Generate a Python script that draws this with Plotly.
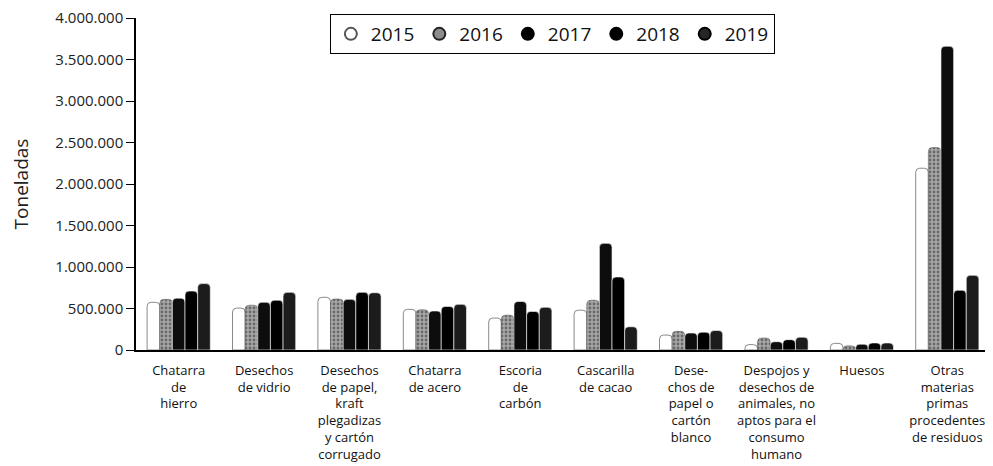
import plotly.graph_objects as go

categories = [
    "Chatarra<br>de<br>hierro",
    "Desechos<br>de vidrio",
    "Desechos<br>de papel,<br>kraft<br>plegadizas<br>y cartón<br>corrugado",
    "Chatarra<br>de acero",
    "Escoria<br>de<br>carbón",
    "Cascarilla<br>de cacao",
    "Dese-<br>chos de<br>papel o<br>cartón<br>blanco",
    "Despojos y<br>desechos de<br>animales, no<br>aptos para el<br>consumo<br>humano",
    "Huesos",
    "Otras<br>materias<br>primas<br>procedentes<br>de residuos",
]

years = ["2015", "2016", "2017", "2018", "2019"]

v2015 = [575000, 505000, 635000, 490000, 385000, 480000, 180000, 65000, 80000, 2190000]
v2016 = [610000, 540000, 615000, 485000, 420000, 600000, 225000, 145000, 50000, 2440000]
v2017 = [625000, 575000, 610000, 470000, 585000, 1285000, 205000, 100000, 70000, 3660000]
v2018 = [710000, 600000, 695000, 525000, 465000, 880000, 215000, 125000, 85000, 720000]
v2019 = [800000, 695000, 690000, 550000, 515000, 280000, 235000, 155000, 85000, 900000]

values = [v2015, v2016, v2017, v2018, v2019]

bar_styles = [
    dict(color="#ffffff", line=dict(color="#8a8a8a", width=1)),
    dict(color="#a8a8a8", line=dict(color="#555555", width=0.5),
         pattern=dict(shape=".", fgcolor="#2a2a2a", size=4, solidity=0.4)),
    dict(color="#0d0d0d", line=dict(color="#ffffff", width=0.6)),
    dict(color="#000000", line=dict(color="#ffffff", width=0.6)),
    dict(color="#1c1c1c", line=dict(color="#ffffff", width=0.6)),
]
legend_markers = [
    dict(color="#ffffff", line=dict(color="#555555", width=1.5)),
    dict(color="#8c8c8c", line=dict(color="#222222", width=1.5)),
    dict(color="#000000", line=dict(color="#000000", width=1)),
    dict(color="#000000", line=dict(color="#000000", width=1)),
    dict(color="#262626", line=dict(color="#000000", width=1)),
]

fig = go.Figure()
for yr, vals, st in zip(years, values, bar_styles):
    fig.add_trace(go.Bar(x=categories, y=vals, name=yr, marker=st, showlegend=False))

for yr, mk in zip(years, legend_markers):
    fig.add_trace(go.Scatter(x=[categories[0]], y=[None], mode="markers", name=yr,
                             marker=dict(symbol="circle", size=16, **mk)))

# page has an 8px body margin; figure sized to fit the 993x466 window
fig.update_layout(
    width=985, height=458,
    margin=dict(l=128, r=3, t=10, b=116),
    paper_bgcolor="white", plot_bgcolor="white",
    barmode="group", bargap=0.26, bargroupgap=0,
    barcornerradius=4,
    separators=",.",
    font=dict(family="Open Sans, sans-serif", color="#222222"),
    showlegend=True,
    legend=dict(orientation="h", x=0.227, y=1.012, xanchor="left", yanchor="top",
                bordercolor="#000000", borderwidth=1, bgcolor="rgba(255,255,255,0)",
                font=dict(size=19, color="#111111"), itemsizing="constant",
                tracegroupgap=0),
)
fig.update_xaxes(showline=True, linecolor="#000000", linewidth=2, ticks="",
                 range=[-0.5, 9.5], automargin=False,
                 tickfont=dict(size=13, color="#111111"), tickangle=0,
                 ticklabelstandoff=7, showgrid=False)
fig.update_yaxes(range=[0, 4000000], tickvals=[0, 500000, 1000000, 1500000, 2000000,
                 2500000, 3000000, 3500000, 4000000], tickformat=",d",
                 automargin=False, ticklabeloverflow="allow",
                 showline=True, linecolor="#000000", linewidth=1.5,
                 ticks="outside", ticklen=8, tickcolor="#000000",
                 tickfont=dict(size=15, color="#222222"), showgrid=False, zeroline=False,
                 title=dict(text="Toneladas", font=dict(size=19, color="#222222"), standoff=30))

fig.write_html("out.html")
